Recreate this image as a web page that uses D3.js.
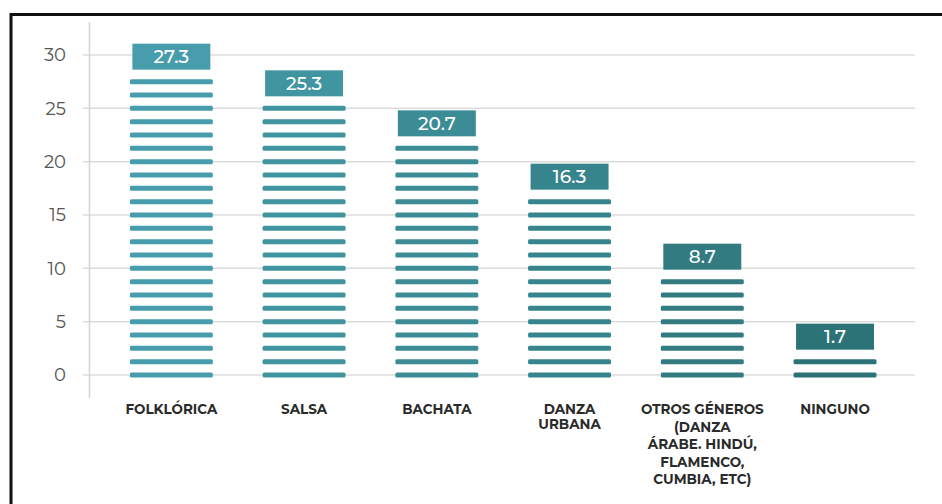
<!DOCTYPE html>
<html>
<head>
<meta charset="utf-8">
<script src="https://cdn.jsdelivr.net/npm/d3@7"></script>
<style>
  html, body { margin: 0; padding: 0; background: #fff; }
  svg { display: block; }
  text { font-family: "Montserrat", "Lato", "Open Sans", sans-serif; }
</style>
</head>
<body>
<svg id="chart" width="942" height="504"></svg>
<script>
// Preferencia de géneros de baile (%)
const categories = ["FOLKLÓRICA", "SALSA", "BACHATA", "DANZA URBANA", "OTROS GÉNEROS", "NINGUNO"];
const categoryLines = [
  ["FOLKLÓRICA"],
  ["SALSA"],
  ["BACHATA"],
  ["DANZA", "URBANA"],
  ["OTROS GÉNEROS", "(DANZA", "ÁRABE. HINDÚ,", "FLAMENCO,", "CUMBIA, ETC)"],
  ["NINGUNO"]
];
const values = [27.3, 25.3, 20.7, 16.3, 8.7, 1.7];
const yTicks = [0, 5, 10, 15, 20, 25, 30];
const stripeStep = 1.25;

const svg = d3.select("#chart");
const W = 942, H = 504;

// frame
svg.append("path")
  .attr("d", `M11,${H} L11,14.5 L${W},14.5`)
  .attr("fill", "none").attr("stroke", "#111").attr("stroke-width", 3);

const y = d3.scaleLinear().domain([0, 30]).range([375, 55]);
const x = d3.scaleBand().domain(categories).range([105, 901.4])
  .paddingInner(0.375).paddingOuter(0.1875);

const color = d3.scaleLinear().domain([0, categories.length - 1])
  .range(["#479dab", "#2b7377"]).interpolate(d3.interpolateRgb);

// gridlines
svg.append("g").selectAll("line").data(yTicks).join("line")
  .attr("x1", 83).attr("x2", 915)
  .attr("y1", d => y(d)).attr("y2", d => y(d))
  .attr("stroke", "#dcdcdc").attr("stroke-width", 1.5);

// vertical axis line
svg.append("line").attr("x1", 89.5).attr("x2", 89.5).attr("y1", 22).attr("y2", 398)
  .attr("stroke", "#d4d4d4").attr("stroke-width", 1.5);

// y tick labels
svg.append("g").selectAll("text").data(yTicks).join("text")
  .attr("x", 66).attr("y", d => y(d)).attr("dy", "0.36em")
  .attr("text-anchor", "end")
  .attr("font-size", 18).attr("fill", "#555")
  .text(d => d);

// striped bars
const bars = svg.append("g").selectAll("g").data(values).join("g");
bars.each(function (v, i) {
  const g = d3.select(this);
  const n = Math.round(v / stripeStep);
  const stripes = d3.range(0, n + 1).map(k => k * stripeStep);
  const x0 = x(categories[i]);
  const bw = x.bandwidth();
  g.selectAll("rect.stripe").data(stripes).join("rect")
    .attr("class", "stripe")
    .attr("x", x0).attr("width", bw)
    .attr("y", d => y(d) - 2.5).attr("height", 5)
    .attr("rx", 1.5)
    .attr("fill", color(i));
  const topY = y(stripes[stripes.length - 1]);
  const boxBottom = topY - 12;
  g.append("rect")
    .attr("x", x0 + 2.5).attr("width", bw - 5)
    .attr("y", boxBottom - 26).attr("height", 26)
    .attr("fill", color(i));
  g.append("text")
    .attr("x", x0 + bw / 2).attr("y", boxBottom - 13).attr("dy", "0.36em")
    .attr("text-anchor", "middle")
    .attr("font-size", 18.5).attr("font-weight", 500).attr("fill", "#fff")
    .text(v.toFixed(1));
});

// category labels
const labels = svg.append("g").selectAll("text").data(categories).join("text")
  .attr("x", d => x(d) + x.bandwidth() / 2)
  .attr("y", 414)
  .attr("text-anchor", "middle")
  .attr("font-size", 13.5).attr("font-weight", "bold").attr("fill", "#2a2a2a");
labels.each(function (d, i) {
  const lh = categoryLines[i].length > 2 ? 17.5 : 15;
  d3.select(this).selectAll("tspan").data(categoryLines[i]).join("tspan")
    .attr("x", x(d) + x.bandwidth() / 2)
    .attr("dy", (t, j) => j === 0 ? 0 : lh)
    .text(t => t);
});
</script>
</body>
</html>
